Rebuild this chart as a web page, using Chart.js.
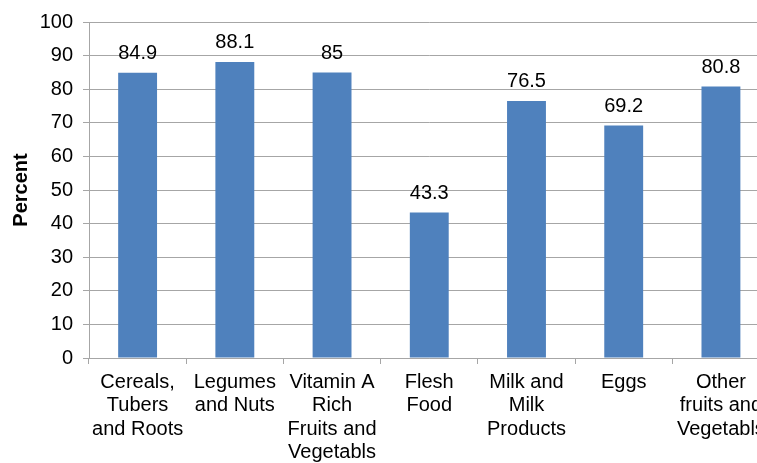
<!DOCTYPE html>
<html>
<head>
<meta charset="utf-8">
<script src="https://cdn.jsdelivr.net/npm/chart.js@4"></script>
<style>
  html, body { margin: 0; padding: 0; background: #fff; overflow: hidden; }
  #wrap { width: 757px; height: 463px; overflow: hidden; }
  #box { width: 772px; height: 463px; }
</style>
</head>
<body>
<div id="wrap"><div id="box"><canvas id="foodChart"></canvas></div></div>
<script>
var categories = [
    ['Cereals,', 'Tubers', 'and Roots'],
    ['Legumes', 'and Nuts'],
    ['Vitamin A', 'Rich', 'Fruits and', 'Vegetabls'],
    ['Flesh', 'Food'],
    ['Milk and', 'Milk', 'Products'],
    ['Eggs'],
    ['Other', 'fruits and', 'Vegetabls']
];
var percentValues = [84.9, 88.1, 85, 43.3, 76.5, 69.2, 80.8];
var percentLabels = ['84.9', '88.1', '85', '43.3', '76.5', '69.2', '80.8'];

var fontFamily = '"Liberation Sans", Arial, sans-serif';

// draw the value above each bar
var valueLabels = {
    id: 'valueLabels',
    afterDatasetsDraw: function(chart) {
        var ctx = chart.ctx;
        var meta = chart.getDatasetMeta(0);
        ctx.save();
        ctx.font = '20px ' + fontFamily;
        ctx.fillStyle = '#000';
        ctx.textAlign = 'center';
        ctx.textBaseline = 'middle';
        meta.data.forEach(function(bar, i) {
            ctx.fillText(percentLabels[i], bar.x, bar.y - 19);
        });
        ctx.restore();
    }
};

var ctx = document.getElementById('foodChart').getContext('2d');
var chart = new Chart(ctx, {
    type: 'bar',
    data: {
        labels: categories,
        datasets: [{
            data: percentValues,
            backgroundColor: '#4F81BD',
            borderWidth: 0,
            categoryPercentage: 1,
            barPercentage: 0.4
        }]
    },
    options: {
        responsive: true,
        maintainAspectRatio: false,
        animation: false,
        layout: { padding: { top: 20, right: 2, left: 0, bottom: 0 } },
        plugins: {
            legend: { display: false },
            tooltip: { enabled: false }
        },
        scales: {
            x: {
                grid: {
                    display: true,
                    drawOnChartArea: false,
                    offset: true,
                    color: '#a6a6a6',
                    tickLength: 6
                },
                border: { color: '#a6a6a6' },
                ticks: {
                    color: '#000',
                    maxRotation: 0,
                    autoSkip: false,
                    padding: 7,
                    font: { size: 20, family: fontFamily, lineHeight: 1.165 }
                },
                afterFit: function(scale) { scale.height = 105; }
            },
            y: {
                min: 0,
                max: 100,
                ticks: {
                    stepSize: 10,
                    color: '#000',
                    padding: 10,
                    font: { size: 20, family: fontFamily }
                },
                grid: { color: '#a6a6a6', tickLength: 6 },
                border: { color: '#a6a6a6' },
                title: {
                    display: true,
                    text: 'Percent',
                    color: '#000',
                    font: { size: 20, weight: 'bold', family: fontFamily },
                    padding: { top: 9, bottom: 4 }
                },
                afterFit: function(scale) { scale.width = 89; }
            }
        }
    },
    plugins: [valueLabels]
});
</script>
</body>
</html>
